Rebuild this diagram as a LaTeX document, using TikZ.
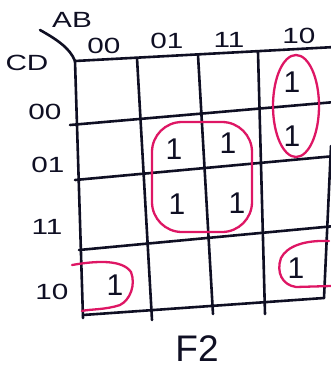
\documentclass[tikz,border=0pt]{standalone}
\usepackage{fontspec}
\setmainfont{Liberation Sans}
\definecolor{inkblack}{RGB}{15,15,35}
\definecolor{inkpink}{RGB}{222,22,100}
\newcommand{\hwide}[1]{\scalebox{1.35}[1]{#1}}
\begin{document}
\begin{tikzpicture}[x=1pt,y=-1pt,
  gridline/.style={draw=inkblack,line width=2.6pt,line cap=round,line join=round},
  grouploop/.style={draw=inkpink,line width=2.3pt,line cap=round},
  hdr/.style={text=inkblack,inner sep=0pt,font=\fontsize{22}{24}\selectfont},
  one/.style={text=inkblack,inner sep=0pt,font=\fontsize{30}{32}\selectfont},
  title/.style={text=inkblack,inner sep=0pt,font=\fontsize{37}{39}\selectfont}]
\useasboundingbox (0,0) rectangle (331,370);
% grid coordinates
\coordinate (h0l) at (75,61);  \coordinate (h0r) at (335,47);
\coordinate (h1l) at (70,125); \coordinate (h1r) at (335,102);
\coordinate (h2l) at (75,180); \coordinate (h2r) at (335,156);
\coordinate (h3l) at (79,250); \coordinate (h3r) at (335,226);
\coordinate (h4l) at (83,315); \coordinate (h4r) at (324,298);
\coordinate (v0t) at (75,61);  \coordinate (v0b) at (83,318);
\coordinate (v1t) at (137,58); \coordinate (v1b) at (152,320);
\coordinate (v2t) at (198,55); \coordinate (v2b) at (213,314);
\coordinate (v3t) at (258,52); \coordinate (v3b) at (265,314);
\coordinate (v4t) at (331,146);\coordinate (v4b) at (324,298);
\draw[gridline] (h0l) -- (h0r);
\draw[gridline] (h1l) -- (h1r);
\draw[gridline] (h2l) -- (h2r);
\draw[gridline] (h3l) -- (h3r);
\draw[gridline] (h4l) -- (h4r);
\draw[gridline] (v0t) -- (v0b);
\draw[gridline] (v1t) -- (v1b);
\draw[gridline] (v2t) -- (v2b);
\draw[gridline] (v3t) -- (v3b);
\draw[gridline] (v4t) -- (v4b);
% diagonal corner stroke
\coordinate (dgs) at (40,30);
\draw[gridline] (dgs) .. controls (56,39) and (70,48) .. (v0t);
% labels
\node[hdr] (lab) at (72,20) {\hwide{AB}};
\node[hdr] (lcd) at (27,63) {\hwide{CD}};
\node[hdr] (c00) at (104,46) {\hwide{00}};
\node[hdr] (c01) at (167,41) {\hwide{01}};
\node[hdr] (c11) at (229,40) {\hwide{11}};
\node[hdr] (c10) at (299,36) {\hwide{10}};
\node[hdr] (r00) at (45,112) {\hwide{00}};
\node[hdr] (r01) at (48,165) {\hwide{01}};
\node[hdr] (r11) at (47,227) {\hwide{11}};
\node[hdr] (r10) at (52,292) {\hwide{10}};
% ones
\node[one] (m2) at (292,82) {1};
\node[one] (m6) at (292,136) {1};
\node[one] (m5) at (174,149) {1};
\node[one] (m7) at (228,143) {1};
\node[one] (m13) at (177,204) {1};
\node[one] (m15) at (237,203) {1};
\node[one] (m8) at (115,285) {1};
\node[one] (m10) at (296,268) {1};
% title
\node[title] (f2) at (197,349) {F2};
% groupings
\draw[grouploop] (296,106) ellipse [x radius=23, y radius=51];
\draw[grouploop,rounded corners=30] (152,122) rectangle (252,232);
\draw[grouploop] (72,265) .. controls (95,261) and (122,259) .. (131,272)
  .. controls (136,285) and (130,300) .. (120,305) .. controls (105,310) and (90,309) .. (82,311);
\draw[grouploop] (329,241) .. controls (305,240) and (287,246) .. (281,258)
  .. controls (276,272) and (282,285) .. (296,287) -- (331,286);
\end{tikzpicture}
\end{document}
